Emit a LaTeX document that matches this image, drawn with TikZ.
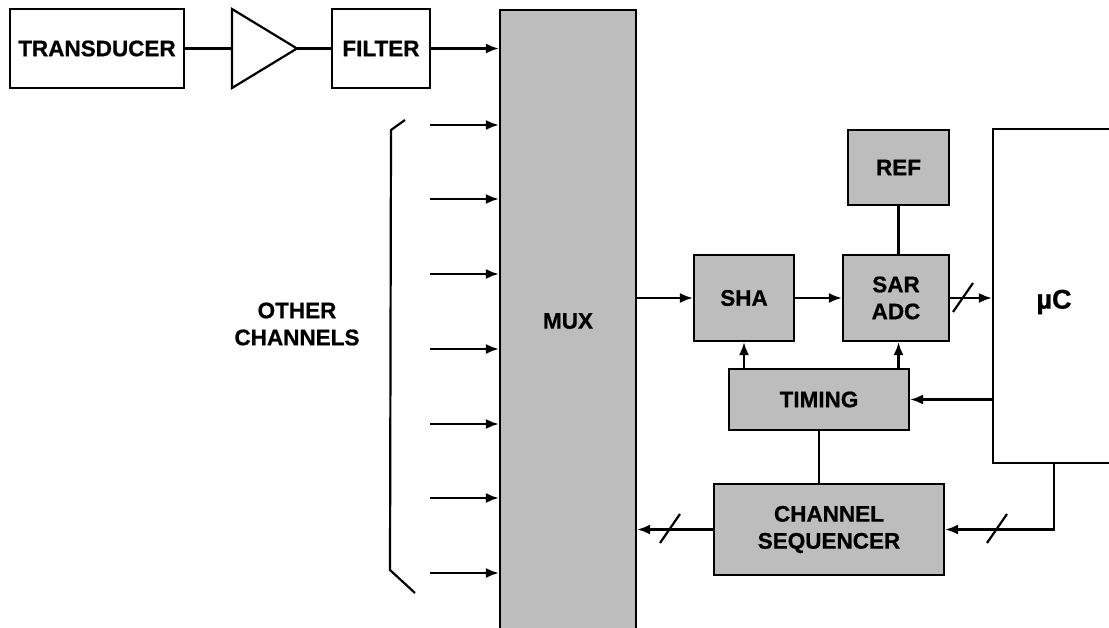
\documentclass[tikz,border=0pt]{standalone}
\usepackage{fontspec}
\setmainfont{Liberation Sans}[BoldFeatures={FakeBold=0.8}]
\usetikzlibrary{arrows.meta}
\begin{document}
\begin{tikzpicture}[x=1pt,y=-1pt,
  every node/.style={font=\fontsize{22.5}{27}\selectfont\bfseries, align=center, inner sep=0pt},
  plainbox/.style={draw, line width=2.2pt, rectangle},
  shadebox/.style={draw, line width=2.2pt, rectangle, fill=black!26},
  conn/.style={line width=2.2pt},
  arr/.style={line width=2.2pt, -{Latex[length=13pt,width=10pt]}},
  slashmark/.style={line width=2.2pt}]
\useasboundingbox (0,0) rectangle (1109,628);
% top chain
\node[plainbox, minimum width=174pt, minimum height=79pt] (trans) at (97,48.5) {TRANSDUCER};
\coordinate (ampin) at (232,48.5);
\coordinate (ampout) at (297,48.5);
\draw[line width=2.2pt, line join=miter] (232,9) -- (ampout) -- (232,88) -- cycle;
\node[plainbox, minimum width=98pt, minimum height=79pt] (filt) at (381,48.5) {FILTER};
% MUX
\node[shadebox, minimum width=136pt, minimum height=640pt, anchor=north] (mux) at (568,9) {};
\node (muxlabel) at (568,321) {MUX};
\draw[conn] (trans.east) -- (ampin);
\draw[conn] (ampout) -- (filt.west);
\draw[arr] (filt.east) -- (filt.east -| mux.west);
% other channels
\foreach \i/\y in {1/125,2/199,3/274,4/349,5/424,6/498,7/573}{
  \coordinate (in\i) at (430,\y);
  \draw[arr] (in\i) -- (in\i -| mux.west);
}
\coordinate (brA) at (405,120);
\coordinate (brB) at (391,130);
\coordinate (brC) at (390,570);
\coordinate (brD) at (415,593);
\draw[line width=2.2pt] (brA) -- (brB) -- (brC) -- (brD);
\node (other) at (297,324) {OTHER\\CHANNELS};
% right part
\node[shadebox, minimum width=100pt, minimum height=86pt] (sha) at (744,298) {SHA};
\node[shadebox, minimum width=106pt, minimum height=86pt] (sar) at (896,298) {SAR\\ADC};
\node[shadebox, minimum width=101pt, minimum height=75pt] (ref) at (898.5,167.5) {REF};
\node[plainbox, minimum width=122pt, minimum height=334pt] (uc) at (1054,296) {};
\node[font=\fontsize{27}{30}\selectfont\bfseries] (uclabel) at (1054,302) {µC};
\node[shadebox, minimum width=180pt, minimum height=61pt] (timing) at (819,399.5) {TIMING};
\node[shadebox, minimum width=230pt, minimum height=91pt] (chseq) at (829,529.5) {CHANNEL\\SEQUENCER};
% connectors
\draw[arr] (sha.west -| mux.east) -- (sha.west);
\draw[arr] (sha.east) -- (sar.west);
\draw[arr] (sar.east) -- (sar.east -| uc.west);
\draw[conn] (ref.south) -- (ref.south |- sar.north);
\draw[arr] (sha.south |- timing.north) -- (sha.south);
\draw[arr] (ref.south |- timing.north) -- (ref.south |- sar.south);
\draw[arr] (timing.east -| uc.west) -- (timing.east);
\draw[conn] (timing.south) -- (timing.south |- chseq.north);
\draw[arr] (chseq.west) -- (chseq.west -| mux.east);
\draw[arr] (uc.south) -- (uc.south |- chseq.east) -- (chseq.east);
% bus slashes
\coordinate (s1) at (963,298);
\coordinate (s2) at (670,529);
\coordinate (s3) at (997,529);
\foreach \s in {s1,s2,s3}{
  \draw[slashmark] ([shift={(-10,14)}]\s) -- ([shift={(10,-15)}]\s);
}
\end{tikzpicture}
\end{document}
